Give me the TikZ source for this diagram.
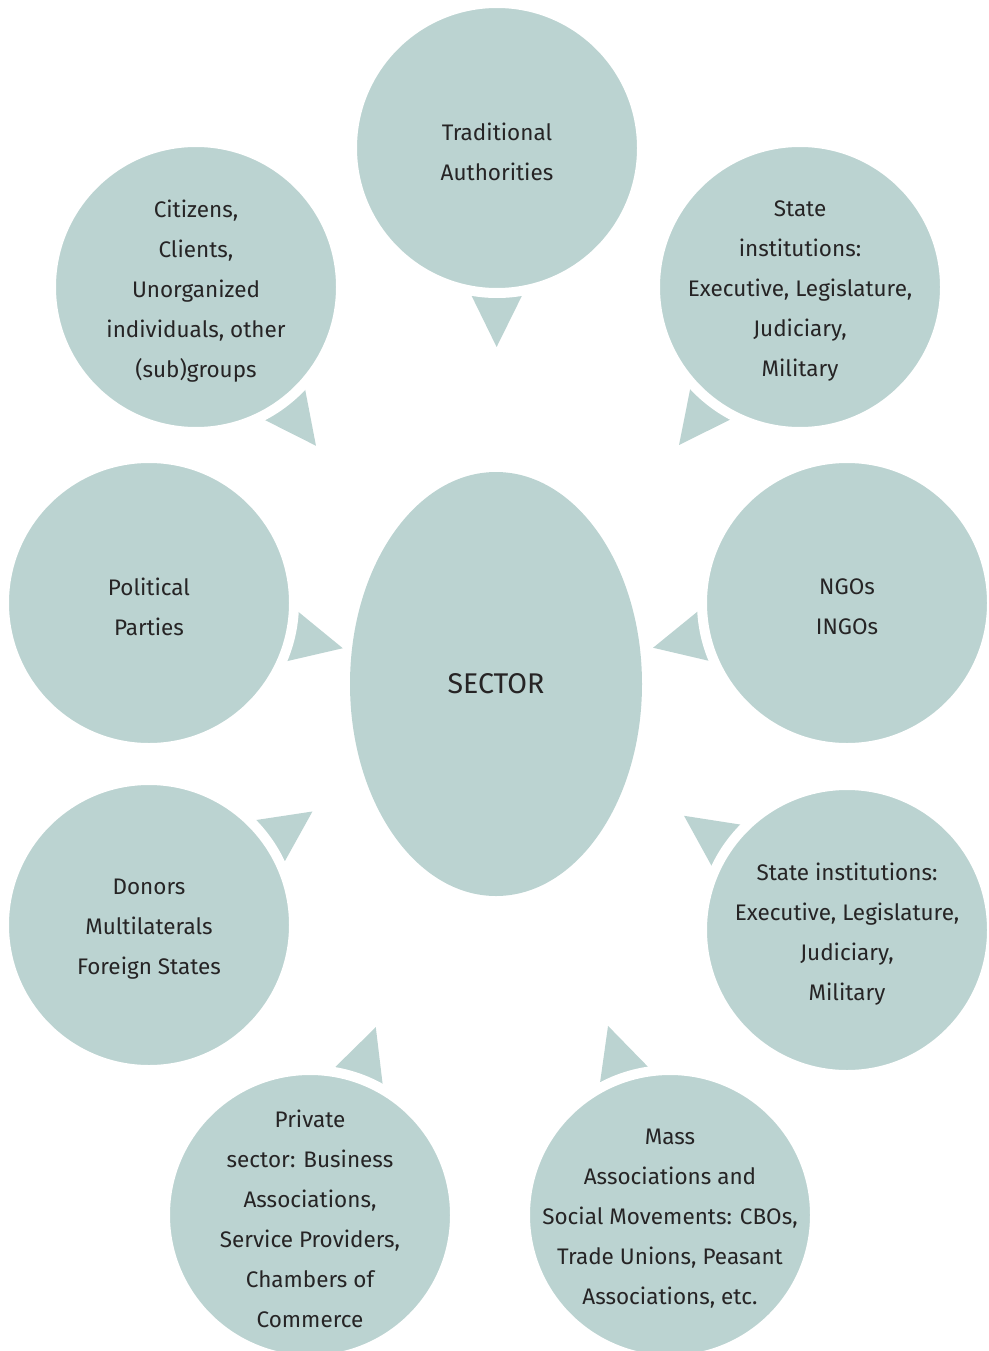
\documentclass[tikz,border=0pt]{standalone}
\usepackage{fontspec}
\setmainfont{Fira Sans}
\usetikzlibrary{calc,shapes.geometric,backgrounds}
\definecolor{bub}{RGB}{187,211,209}
\definecolor{txt}{RGB}{38,36,37}
\begin{document}
\begin{tikzpicture}[x=1pt,y=-1pt,
  bubble/.style={circle, fill=bub, draw=white, line width=10pt, minimum size=290pt, inner sep=0pt,
    label={[btext]center:{#1}}},
  btext/.style={align=center, text=txt, yshift=-4pt, font=\fontsize{22.5}{40}\selectfont},
  pointer/.style={fill=bub}]
\useasboundingbox (0,0) rectangle (988,1351);
\node[ellipse, fill=bub, minimum width=292pt, minimum height=424pt, inner sep=0pt, text=txt, font=\fontsize{28.5}{30}\selectfont] (sector) at (496,684) {SECTOR};
\node[bubble={Traditional\\Authorities}] (trad) at (497,148) {};
\node[bubble={Citizens,\\Clients,\\Unorganized\\individuals, other\\(sub)groups}] (citizens) at (196,287) {};
\node[bubble={State\\institutions:\\Executive, Legislature,\\Judiciary,\\Military}] (statetop) at (800,287) {};
\node[bubble={Political\\Parties}] (parties) at (149,603) {};
\node[bubble={NGOs\\INGOs}] (ngos) at (847,603) {};
\node[bubble={Donors\\Multilaterals\\Foreign States}] (donors) at (149,925) {};
\node[bubble={State institutions:\\Executive, Legislature,\\Judiciary,\\Military}] (statebot) at (847,930) {};
\node[bubble={Private\\sector: Business\\Associations,\\Service Providers,\\Chambers of\\Commerce}] (private) at (310,1215) {};
\node[bubble={Mass\\Associations and\\Social Movements: CBOs,\\Trade Unions, Peasant\\Associations, etc.}] (mass) at (670,1215) {};
\begin{scope}[on background layer]
\foreach \n in {trad,citizens,statetop,parties,ngos,donors,statebot,private,mass} {
  \coordinate (b) at ($(\n)!140pt!(sector)$);
  \fill[pointer] ($(\n)!199pt!(sector)$) -- ($(b)!29pt!90:(sector)$) -- ($(b)!29pt!-90:(sector)$) -- cycle;
}
\end{scope}
\end{tikzpicture}
\end{document}
